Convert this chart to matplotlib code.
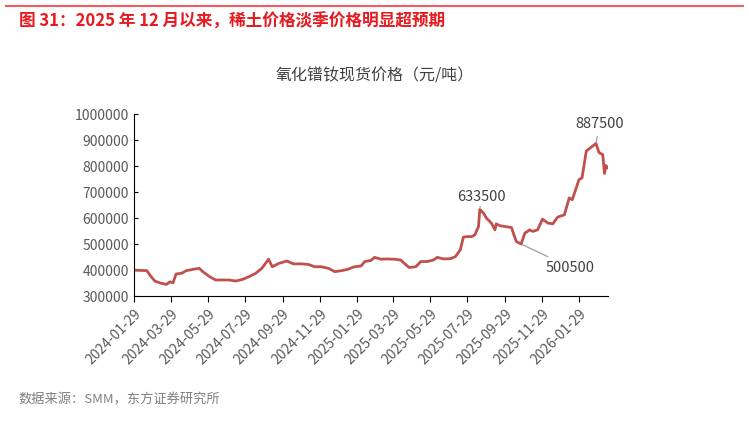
import matplotlib
matplotlib.use("Agg")
import matplotlib.pyplot as plt
import numpy as np
import pandas as pd

plt.rcParams['font.family'] = ['Noto Sans CJK SC', 'DejaVu Sans']

start = pd.Timestamp("2024-01-29")
day_offsets = [0,21,26,34,45,53,59,64,69,78,86,97,107,113,124,134,145,156,167,178,189,200,210,221,227,238,251,262,275,286,297,308,319,330,341,351,362,373,379,389,395,406,416,427,438,444,452,463,471,482,492,498,509,520,528,536,541,547,555,560,566,568,574,579,587,593,595,601,609,620,628,636,642,650,655,663,671,680,688,696,707,715,720,731,736,743,750,759,764,770,773,775,778]
prices = [400000,398000,381000,358000,349000,345000,355000,351000,385000,388000,398000,403000,407000,394000,375000,362000,362000,362000,358000,364000,375000,388000,407000,442000,413000,426000,435000,424000,424000,422000,413000,413000,407000,394000,398000,403000,413000,416000,433000,437000,449000,442000,443000,442000,439000,426000,410000,413000,433000,433000,439000,449000,443000,444000,452000,478000,527000,529000,529000,536000,568000,633500,620000,600000,581000,555000,578000,571000,568000,564000,510000,500500,542000,555000,549000,555000,596000,581000,578000,604000,613000,678000,671000,748000,755000,858000,871000,887500,852000,845000,772000,803000,794000]
tick_labels = ["2024-01-29","2024-03-29","2024-05-29","2024-07-29","2024-09-29","2024-11-29","2025-01-29","2025-03-29","2025-05-29","2025-07-29","2025-09-29","2025-11-29","2026-01-29"]

dates = [start + pd.Timedelta(days=d) for d in day_offsets]
ticks = pd.to_datetime(tick_labels)

fig = plt.figure(figsize=(7.49, 4.23), dpi=100)
ax = fig.add_axes([0.179, 0.30, 0.633, 0.43])
ax.plot(dates, prices, color="#C0504D", lw=2)
ax.set_ylim(300000, 1000000)
ax.set_yticks(np.arange(300000, 1000001, 100000))
ax.set_yticklabels([f"{v}" for v in range(300000, 1000001, 100000)], color="#595959", fontsize=10)
ax.set_xlim(start, dates[-1] + pd.Timedelta(days=1))
ax.set_xticks(ticks)
ax.set_xticklabels(tick_labels, rotation=45, ha="right", rotation_mode="anchor", color="#595959", fontsize=10)
for s in ["top", "right"]:
    ax.spines[s].set_visible(False)
for s in ["left", "bottom"]:
    ax.spines[s].set_color("black")
ax.tick_params(axis="x", direction="out", length=4)
ax.tick_params(axis="y", direction="in", length=3)

gray = "#A6A6A6"
def ann(i, txt, tx, ty, ha):
    ax.annotate(txt, xy=(dates[i], prices[i]), xytext=(tx, ty), textcoords="offset points",
                ha=ha, va="center", fontsize=10.5, color="#404040",
                arrowprops=dict(arrowstyle="-", color=gray, lw=1, shrinkA=2, shrinkB=1))
ann(day_offsets.index(759), "887500", 20, 14, "right")
ann(day_offsets.index(568), "633500", 19, 9, "right")
ann(day_offsets.index(636), "500500", 18, -17, "left")

fig.text(0.5, 0.82, "氧化镨钕现货价格（元/吨）", ha="center", va="center", fontsize=11.5, color="#404040")
fig.text(0.025, 0.948, "图 31：2025 年 12 月以来，稀土价格淡季价格明显超预期", ha="left", va="center",
         fontsize=12, color="#E8191F", fontweight="bold")
fig.add_artist(plt.Line2D([0.008, 0.992], [0.985, 0.985], color="#E8191F", lw=1.5, alpha=0.7))
fig.text(0.025, 0.055, "数据来源：SMM，东方证券研究所", ha="left", va="center", fontsize=9.5, color="#7F7F7F")
fig.savefig("out.png", dpi=100)
